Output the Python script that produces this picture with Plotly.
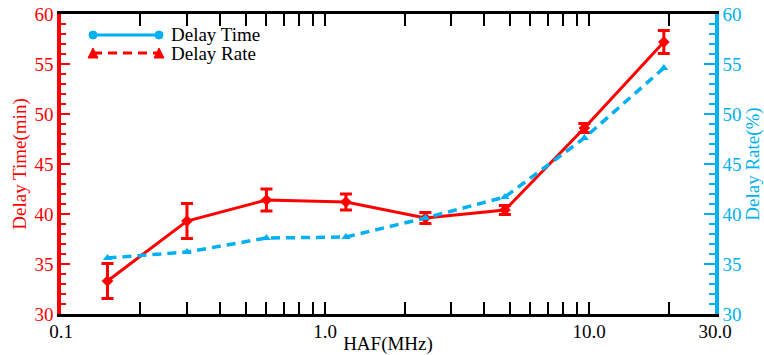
import plotly.graph_objects as go

haf_mhz = [0.15, 0.3, 0.6, 1.2, 2.4, 4.8, 9.6, 19.2]
delay_time_min = [33.3, 39.3, 41.4, 41.2, 39.6, 40.4, 48.6, 57.2]
delay_time_err = [1.75, 1.75, 1.1, 0.8, 0.55, 0.45, 0.45, 1.15]
delay_rate_pct = [35.6, 36.2, 37.6, 37.7, 39.6, 41.7, 47.6, 54.6]

x_tickvals = [0.1, 1, 10, 30]
x_ticktext = ["0.1", "1.0", "10.0", "30.0"]
x_minor = [0.2, 0.3, 0.4, 0.5, 0.6, 0.7, 0.8, 0.9, 2, 3, 4, 5, 6, 7, 8, 9, 20]

RED = "#FF0000"
BLUE = "#00B0F0"
FONT = "Liberation Serif"
FS = 19

fig = go.Figure()

fig.add_trace(go.Scatter(
    x=haf_mhz, y=delay_time_min, name="Delay Time", mode="lines+markers",
    line=dict(color=RED, width=3),
    marker=dict(symbol="diamond", size=9, color=RED),
    error_y=dict(type="data", array=delay_time_err, visible=True,
                 color=RED, thickness=3, width=6),
    showlegend=False, yaxis="y"))

fig.add_trace(go.Scatter(
    x=haf_mhz, y=delay_rate_pct, name="Delay Rate", mode="lines+markers",
    line=dict(color=BLUE, width=3.5, dash="9px,6px"),
    marker=dict(symbol="triangle-up", size=8, color=BLUE),
    showlegend=False, yaxis="y2"))

W, H = 764, 355
L, R, T, B = 61, 715, 14, 314   # plot area in pixels
def px(xp):
    return (xp - L) / (R - L)
def py(yp):
    return (B - yp) / (B - T)

shapes = []
annotations = []
y1, y2 = py(35), py(53)
shapes.append(dict(type="line", xref="paper", yref="paper", x0=px(93), x1=px(159),
                   y0=y1, y1=y1, line=dict(color=BLUE, width=3)))
for xx in (93, 159):
    shapes.append(dict(type="circle", xref="paper", yref="paper",
                       xsizemode="pixel", ysizemode="pixel",
                       xanchor=px(xx), yanchor=y1, x0=-4, x1=4, y0=-4, y1=4,
                       fillcolor=BLUE, line=dict(color=BLUE, width=1)))
shapes.append(dict(type="line", xref="paper", yref="paper", x0=px(93), x1=px(159),
                   y0=y2, y1=y2, line=dict(color=RED, width=3, dash="9px,6px")))
for xx in (93, 159):
    shapes.append(dict(type="path", xref="paper", yref="paper",
                       xsizemode="pixel", ysizemode="pixel",
                       xanchor=px(xx), yanchor=y2,
                       path="M -5 -5 L 5 -5 L 0 5 Z",
                       fillcolor=RED, line=dict(color=RED, width=1)))
for label, yy in (("Delay Time", y1), ("Delay Rate", y2)):
    annotations.append(dict(text=label, xref="paper", yref="paper", x=px(169), y=yy,
                            xanchor="left", yanchor="middle", showarrow=False,
                            font=dict(family=FONT, size=FS, color="black")))

fig.update_layout(
    width=W, height=H,
    margin=dict(l=L, r=W - R, t=T, b=H - B, autoexpand=False),
    paper_bgcolor="white", plot_bgcolor="white",
    font=dict(family=FONT, size=FS, color="black"),
    showlegend=False,
    shapes=shapes, annotations=annotations,
    xaxis=dict(
        type="log", range=[-1, 1.4771], tickvals=x_tickvals, ticktext=x_ticktext,
        ticks="inside", ticklen=12, tickwidth=2, tickcolor="black",
        minor=dict(tickvals=x_minor, ticks="inside", ticklen=6, tickwidth=2, tickcolor="black"),
        showline=True, linecolor="black", linewidth=3, mirror="allticks",
        showgrid=False, zeroline=False, automargin=False, ticklabelstandoff=-2,
        ticklabeloverflow="allow",
        tickfont=dict(family=FONT, size=FS, color="black"),
        title=dict(text="HAF(MHz)", font=dict(family=FONT, size=FS, color="black"), standoff=0),
    ),
    yaxis=dict(
        range=[30, 60], dtick=5, tick0=30, automargin=False, ticklabeloverflow="allow",
        ticks="inside", ticklen=9, tickwidth=2, tickcolor=RED,
        minor=dict(dtick=1, ticks="inside", ticklen=5, tickwidth=2, tickcolor=RED),
        showline=True, linecolor=RED, linewidth=3.5,
        showgrid=False, zeroline=False,
        tickfont=dict(family=FONT, size=FS, color=RED),
        title=dict(text="Delay Time(min)", font=dict(family=FONT, size=FS, color=RED), standoff=4),
    ),
    yaxis2=dict(
        range=[30, 60], dtick=5, tick0=30, overlaying="y", side="right", automargin=False,
        ticklabeloverflow="allow",
        ticks="inside", ticklen=11, tickwidth=2, tickcolor=BLUE,
        minor=dict(dtick=1, ticks="inside", ticklen=6, tickwidth=2, tickcolor=BLUE),
        showline=True, linecolor=BLUE, linewidth=3.5,
        showgrid=False, zeroline=False,
        tickfont=dict(family=FONT, size=FS, color=BLUE),
        title=dict(text="Delay Rate(%)", font=dict(family=FONT, size=FS, color=BLUE), standoff=4),
    ),
)

fig.write_html("out.html", config={"displayModeBar": False},
               post_script="document.body.style.margin='0';")
